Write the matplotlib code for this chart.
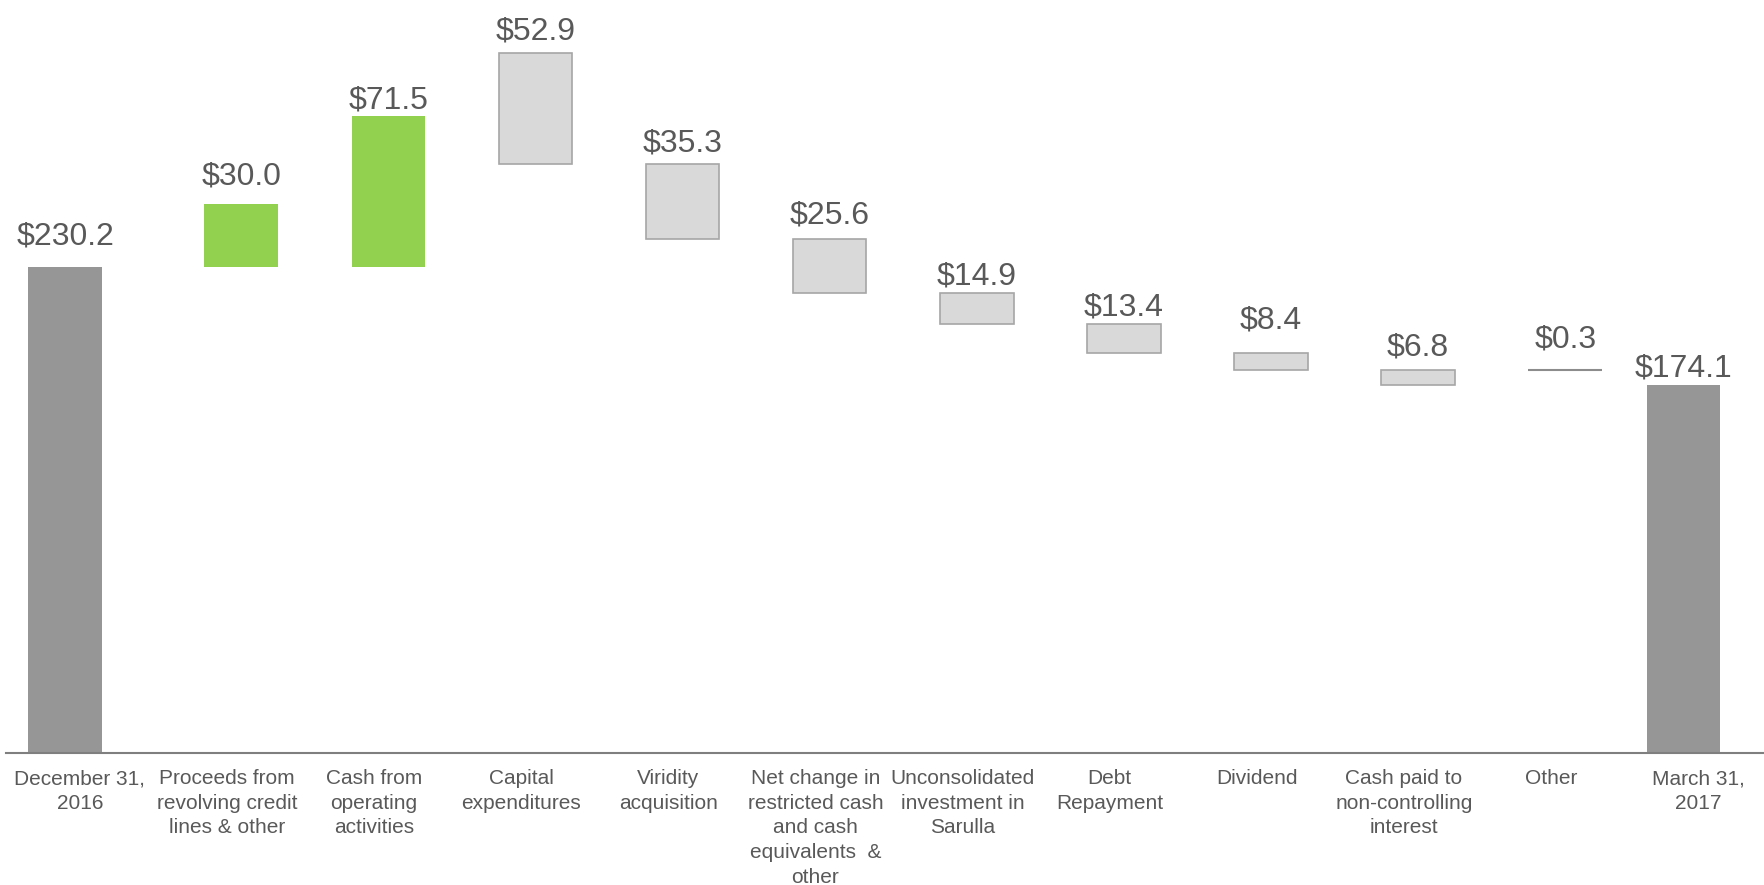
import matplotlib
matplotlib.use("Agg")
import matplotlib.pyplot as plt
import numpy as np

plt.rcParams['font.family'] = ['Liberation Sans', 'DejaVu Sans']

# ---- data ----
categories = ["December 31,\n2016", "Proceeds from\nrevolving credit\nlines & other",
              "Cash from\noperating\nactivities", "Capital\nexpenditures",
              "Viridity\nacquisition", "Net change in\nrestricted cash\nand cash\nequivalents  &\nother",
              "Unconsolidated\ninvestment in\nSarulla", "Debt\nRepayment", "Dividend",
              "Cash paid to\nnon-controlling\ninterest", "Other", "March 31,\n2017"]
start_value = 230.2
increases = [30.0, 71.5]
decreases = [52.9, 35.3, 25.6, 14.9, 13.4, 8.4, 6.8, 0.3]
end_value = 174.1
value_labels = ["$230.2", "$30.0", "$71.5", "$52.9", "$35.3", "$25.6", "$14.9",
                "$13.4", "$8.4", "$6.8", "$0.3", "$174.1"]

# ---- layout / style ----
bar_shift = [-0.10] + [0.097] * 10 + [-0.10]
label_gap_px = [22, 19.3, 7.3, 13.5, 13.3, 15, 8, 9.3, 24.4, 15.3, 22.4, 9]
width = 0.5
c_total = "#969696"
c_up = "#92D050"
c_down = "#D9D9D9"
c_edge = "#A6A6A6"
c_text = "#595959"

W, H = 1765, 885
fig = plt.figure(figsize=(W / 100, H / 100), dpi=100)
ax = fig.add_axes([0.0032, (H - 752.7) / H, 0.9968, 752.7 / H])

n = len(categories)
x = np.arange(n) + np.array(bar_shift)

bottoms, tops = [], []
bottoms.append(0); tops.append(start_value)
# increases (both drawn from the start level, as in the reference)
for v in increases:
    bottoms.append(start_value); tops.append(start_value + v)
level = start_value + sum(increases)
for v in decreases:
    bottoms.append(level - v); tops.append(level)
    level -= v
bottoms.append(0); tops.append(end_value)

for i in range(n):
    b, t = bottoms[i], tops[i]
    if i == 0 or i == n - 1:
        ax.bar(x[i], t - b, bottom=b, width=width, color=c_total, edgecolor="none")
    elif i in (1, 2):
        ax.bar(x[i], t - b, bottom=b, width=width, color=c_up, edgecolor="none")
    elif i == n - 2:
        # "Other" rendered as a thin line at the previous step's level
        lvl = tops[i - 1]
        ax.plot([x[i] - width / 2, x[i] + width / 2], [lvl, lvl], color="#8C8C8C", lw=1.5,
                solid_capstyle="butt")
        tops[i] = lvl
    else:
        ax.bar(x[i], t - b, bottom=b, width=width, color=c_down, edgecolor=c_edge, linewidth=1.2)

for i in range(n):
    ax.annotate(value_labels[i], xy=(x[i], tops[i]), xytext=(0, label_gap_px[i] * 0.72),
                textcoords="offset points", ha="center", va="baseline",
                fontsize=23, color=c_text)

ax.set_xlim(-0.504, 11.455)
ax.set_ylim(0, 752.7 / 2.110)
for s in ["top", "right", "left"]:
    ax.spines[s].set_visible(False)
ax.spines["bottom"].set_color("#7F7F7F")
ax.spines["bottom"].set_linewidth(1.5)
ax.set_yticks([])
ax.set_xticks([])

for i, lab in enumerate(categories):
    ax.annotate(lab, xy=(i, 0), xytext=(0, -12), textcoords="offset points",
                ha="center", va="top", fontsize=15, color=c_text, linespacing=1.37,
                multialignment="center")

fig.savefig("out.png", dpi=100, facecolor="white")
